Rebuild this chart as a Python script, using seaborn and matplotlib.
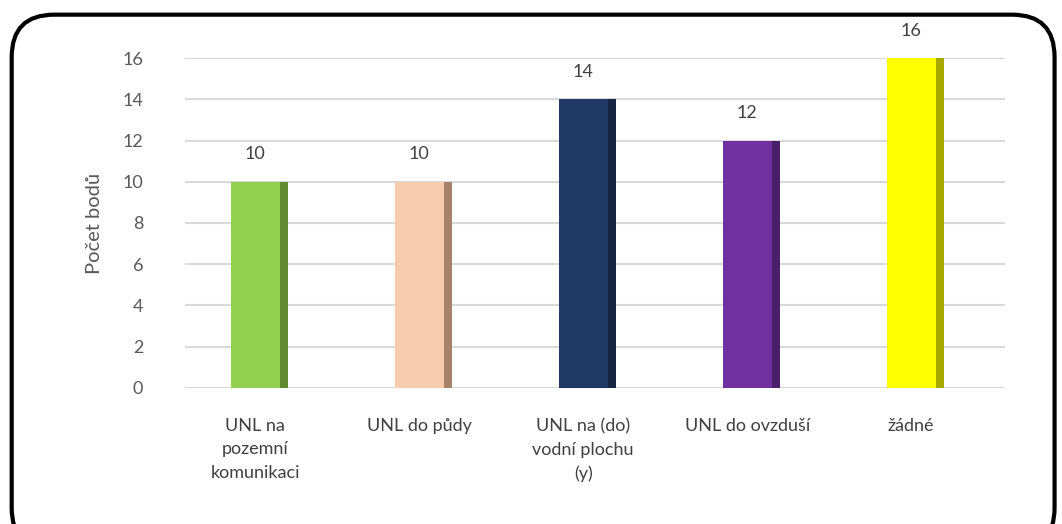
import numpy as np
import pandas as pd
import matplotlib
matplotlib.use("Agg")
import matplotlib.pyplot as plt
from matplotlib.patches import FancyBboxPatch
import seaborn as sns

categories = ["UNL na\npozemní\nkomunikaci", "UNL do půdy", "UNL na (do)\nvodní plochu\n(y)",
              "UNL do ovzduší", "žádné"]
values = [10, 10, 14, 12, 16]
labels = ["10", "10", "14", "12", "16"]
front_colors = ["#92D050", "#F8CBAD", "#203864", "#7030A0", "#FFFF00"]
side_colors = ["#5F8A30", "#A6826A", "#152542", "#4A1F69", "#A8A800"]

sns.set_theme(style="white")
plt.rcParams['font.family'] = ['Lato', 'DejaVu Sans']

fig = plt.figure(figsize=(10.62, 5.24), dpi=100)
ax = fig.add_axes([0.174, 0.26, 0.772, 0.629])

df = pd.DataFrame({"cat": categories, "val": values})
bw = 0.3
sns.barplot(data=df, x="cat", y="val", hue="cat", palette=front_colors, legend=False,
            width=bw, ax=ax, saturation=1, zorder=3, linewidth=0, edgecolor="none")
sw = 0.05
xs = np.arange(len(values))
ax.bar(xs + bw / 2 + sw / 2, values, width=sw, color=side_colors, zorder=3, linewidth=0)

for i, (v, t) in enumerate(zip(values, labels)):
    ax.annotate(t, (i, v), xytext=(0, 14), textcoords="offset points", ha="center",
                va="bottom", fontsize=13, color="#404040", annotation_clip=False)

ax.set_ylim(0, 16)
ax.set_yticks(range(0, 17, 2))
ax.set_xlim(-0.43, 4.57)
ax.grid(axis="y", color="#D9D9D9", linewidth=1.5, zorder=0)
ax.set_axisbelow(True)
for s in ax.spines.values():
    s.set_visible(False)
ax.tick_params(axis="y", length=0, labelsize=13, labelcolor="#595959", pad=30)
ax.tick_params(axis="x", length=0, labelsize=13, labelcolor="#404040", pad=22)
for lab in ax.get_xticklabels():
    lab.set_linespacing(1.55)
    lab.set_verticalalignment("top")
ax.set_xlabel("")
ax.set_ylabel("Počet bodů", fontsize=14.5, color="#595959", labelpad=14)

border = FancyBboxPatch((0.011, -0.05), 0.982, 1.022, boxstyle="round,pad=0,rounding_size=0.04",
                        transform=fig.transFigure, fill=False, edgecolor="black", linewidth=3,
                        mutation_aspect=1062 / 524)
fig.patches.append(border)

fig.savefig("out.png", dpi=100)
